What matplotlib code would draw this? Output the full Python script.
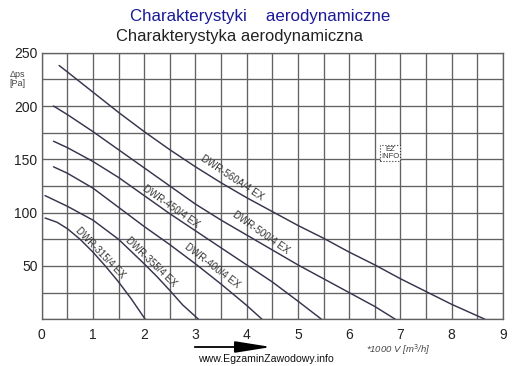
import matplotlib
matplotlib.use("Agg")
import matplotlib.pyplot as plt
from matplotlib.ticker import MultipleLocator

plt.rcParams['font.family'] = ['Liberation Sans', 'DejaVu Sans']

# ---- data ----
x315 = [0.065, 0.3, 0.5, 0.75, 1.0, 1.25, 1.5, 1.75, 2.02]
y315 = [95, 91, 85, 75, 63, 49.5, 35, 19, 0]
x355 = [0.065, 0.5, 1.0, 1.5, 2.0, 2.25, 2.5, 2.75, 3.06]
y355 = [116, 106, 93, 75, 52, 40, 27, 13.5, 0]
x400 = [0.23, 0.5, 1.0, 1.5, 2.0, 2.5, 3.0, 3.5, 4.0, 4.3]
y400 = [143, 137, 123, 105, 87, 70, 52, 33, 13, 0]
x450 = [0.23, 0.5, 1.0, 1.5, 2.0, 2.5, 3.0, 3.5, 4.0, 4.5, 5.0, 5.46]
y450 = [167, 161, 148, 133, 116, 99, 83, 67, 51, 35, 17, 0]
x500 = [0.23, 0.5, 1.0, 1.5, 2.0, 2.5, 3.0, 3.5, 4.0, 4.5, 5.0, 5.5, 6.0, 6.5, 6.9]
y500 = [200, 192, 176, 159, 142, 125, 108, 93, 79, 65, 51, 38, 25, 12, 0]
x560 = [0.34, 0.5, 1.0, 1.5, 2.0, 2.5, 3.0, 3.5, 4.0, 4.5, 5.0, 5.5, 6.0, 6.5, 7.0, 7.5, 8.0, 8.65]
y560 = [238, 232, 213, 194, 176, 159, 143, 128, 114, 101, 88, 76, 63, 51, 38, 26, 14, 0]

curve_x = [x315, x355, x400, x450, x500, x560]
curve_y = [y315, y355, y400, y450, y500, y560]
labels = ["DWR-315/4 EX", "DWR-355/4 EX", "DWR-400/4 EX",
          "DWR-450/4 EX", "DWR-500/4 EX", "DWR-560A/4 EX"]
label_pos = [(1.14, 62), (2.13, 54), (3.32, 50.5),
             (2.52, 106), (4.28, 81), (3.71, 132.5)]
label_rot = [-46, -44, -37.5, -35, -35, -33.7]

x_ticks = [0, 1, 2, 3, 4, 5, 6, 7, 8, 9]
y_ticks = [50, 100, 150, 200, 250]

W, H = 518, 366
fig = plt.figure(figsize=(W / 100, H / 100), dpi=100)
ax = fig.add_axes([41.7 / W, 1 - 319.3 / H, (503 - 41.7) / W, (319.3 - 52.7) / H])

ax.set_xlim(0, 9)
ax.set_ylim(0, 250)
ax.xaxis.set_minor_locator(MultipleLocator(0.5))
ax.yaxis.set_minor_locator(MultipleLocator(25))
ax.set_xticks(x_ticks)
ax.set_yticks(y_ticks)
ax.grid(True, which='both', color='#626262', linewidth=0.95)
ax.set_axisbelow(True)
for s in ax.spines.values():
    s.set_color('#626262')
    s.set_linewidth(0.95)
ax.tick_params(which='both', length=0, labelsize=10, colors='#222222')
ax.tick_params(axis='x', pad=6)
ax.tick_params(axis='y', pad=3)

for cx, cy in zip(curve_x, curve_y):
    ax.plot(cx, cy, color='#35354f', linewidth=1.05, solid_capstyle='round',
            solid_joinstyle='round')

for lab, (lx, ly), rot in zip(labels, label_pos, label_rot):
    ax.text(lx, ly, lab, rotation=rot, rotation_mode='anchor', ha='center', va='center',
            fontsize=7, color='#333333')

# titles
fig.text(260 / W, 1 - 17 / H, "Charakterystyki    aerodynamiczne", ha='center', va='center',
         fontsize=12.2, color='#1a1a99')
fig.text(240 / W, 1 - 36 / H, "Charakterystyka aerodynamiczna", ha='center', va='center',
         fontsize=11.9, color='#222222')

# y-axis unit label
fig.text(17 / W, 1 - 79 / H, "\u0394ps\n[Pa]", ha='center', va='center',
         fontsize=6.5, color='#444444', linespacing=1.05)

# x-axis unit label
fig.text(398 / W, 1 - 350 / H, "*1000 V [m$^3$/h]", ha='center', va='center',
         fontsize=6.8, style='italic', color='#444444')

# arrow
fig.add_artist(matplotlib.patches.FancyArrowPatch(
    (192 / W, 1 - 347 / H), (274 / W, 1 - 347 / H), transform=fig.transFigure,
    arrowstyle='-|>,head_length=22,head_width=3.5', color='black', linewidth=1.3,
    mutation_scale=1))

fig.text(266 / W, 1 - 359 / H, "www.EgzaminZawodowy.info", ha='center', va='center',
         fontsize=7.6, color='#111111')

# EZ INFO stamp
fig.text(390 / W, 1 - 153 / H, "EZ\nINFO", ha='center', va='center', fontsize=5.5,
         color='#333333', linespacing=0.9,
         bbox=dict(boxstyle='square,pad=0.15', facecolor='white', edgecolor='#333333',
                   linestyle=':', linewidth=0.8))

fig.savefig("out.png", dpi=100)
